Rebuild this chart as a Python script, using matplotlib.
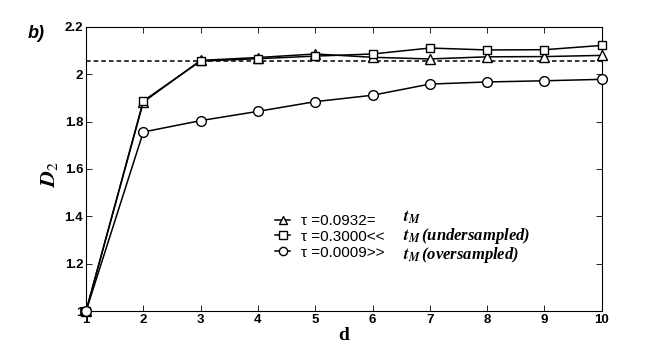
import matplotlib.pyplot as plt

plt.rcParams['mathtext.fontset'] = 'stix'

d = [1, 2, 3, 4, 5, 6, 7, 8, 9, 10]
d2_tri = [1.0, 1.882, 2.058, 2.070, 2.085, 2.071, 2.064, 2.073, 2.074, 2.079]
d2_sq = [1.0, 1.887, 2.055, 2.065, 2.076, 2.085, 2.110, 2.102, 2.103, 2.121]
d2_circ = [1.0, 1.756, 1.804, 1.843, 1.884, 1.911, 1.958, 1.967, 1.972, 1.978]
d2_ref = 2.055

taus = ['τ =0.0932=', 'τ =0.3000<<', 'τ =0.0009>>']
notes = ['', '(undersampled)', '(oversampled)']

W, H = 664, 351
fig = plt.figure(figsize=(W / 100, H / 100), dpi=100)
ax = fig.add_axes([86 / W, 1 - 311.3 / H, 515.7 / W, 284.6 / H])

ax.plot(d, d2_tri, 'k-^', mfc='white', mec='k', ms=7, lw=1.1,
        label=taus[0], clip_on=False, zorder=3)
ax.plot(d, d2_sq, 'k-s', mfc='white', mec='k', ms=6.2, lw=1.1,
        label=taus[1], clip_on=False, zorder=3)
ax.plot(d, d2_circ, 'k-o', mfc='white', mec='k', ms=7, lw=1.1,
        label=taus[2], clip_on=False, zorder=3)
ax.axhline(d2_ref, color='k', ls='--', lw=1.1, dashes=(3, 2), zorder=1)

ax.set_xlim(1, 10)
ax.set_ylim(1, 2.2)
ax.set_xticks(d)
ax.set_yticks([1, 1.2, 1.4, 1.6, 1.8, 2, 2.2])
ax.set_yticklabels(['1', '1.2', '1.4', '1.6', '1.8', '2', '2.2'])
ax.tick_params(direction='in', top=True, right=True, length=4, width=0.6,
               labelsize=9.5, pad=2)
for lab in ax.get_xticklabels() + ax.get_yticklabels():
    lab.set_fontweight('bold')
    lab.set_family('Liberation Sans')
for s in ax.spines.values():
    s.set_linewidth(0.8)

ax.set_xlabel('d', family='Liberation Serif', fontweight='bold', fontsize=14,
              labelpad=1)
ax.set_ylabel(r'$\mathbfit{D}_{2}$', fontsize=16)
ax.yaxis.set_label_coords(-0.05, 0.48)

leg = ax.legend(loc='upper left', bbox_to_anchor=(275 / W, 1 - 214 / H),
                bbox_transform=fig.transFigure, frameon=False,
                prop={'family': 'Liberation Sans', 'size': 11},
                handlelength=1.0, handletextpad=0.7, labelspacing=0.12,
                borderpad=0, borderaxespad=0, markerscale=0.85)

# t_M parts of the legend, serif, one line per entry
t_m = r'$\mathbfit{t}_{\mathbfit{M}}\,$'
tm_lines = '\n'.join(t_m + n for n in notes)
fig.text(403 / W, 1 - 209 / H, tm_lines, fontsize=12, va='top', ha='left',
         family='Liberation Serif', fontweight='bold', style='italic',
         linespacing=0.95)

fig.text(28 / W, 1 - 33 / H, 'b)', fontsize=13, fontweight='bold',
         style='italic', family='Liberation Sans', va='center')

fig.savefig('out.png', dpi=100)
